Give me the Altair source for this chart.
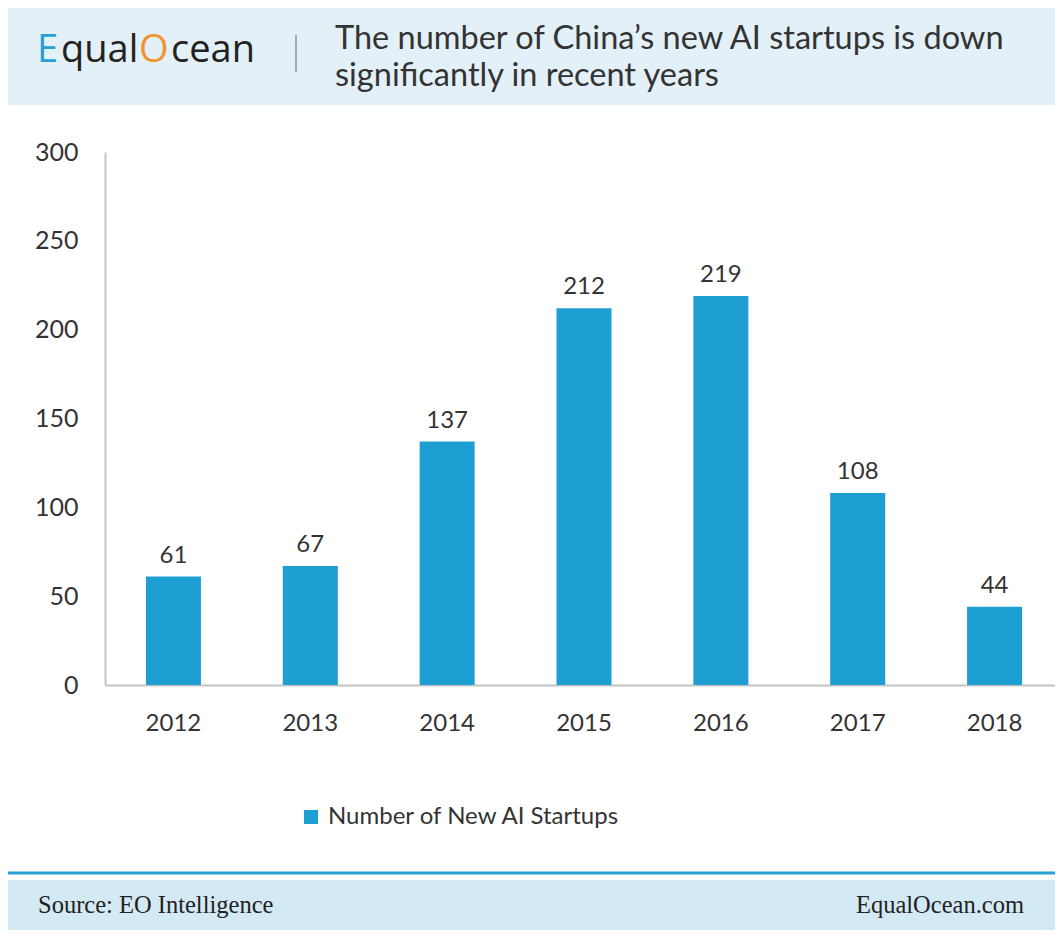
import altair as alt
import pandas as pd

years = ["2012", "2013", "2014", "2015", "2016", "2017", "2018"]
counts = [61, 67, 137, 212, 219, 108, 44]
series_name = "Number of New AI Startups"
title_lines = ["The number of China\u2019s new AI startups is down", "significantly in recent years"]
source_text = "Source: EO Intelligence"
site_text = "EqualOcean.com"
y_ticks = [0, 50, 100, 150, 200, 250, 300]

df = pd.DataFrame({"year": years, "count": counts, "series": [series_name] * len(years)})
one = pd.DataFrame({"k": [0]})

BAR = "#1e9fd3"
TXT = "#333333"

x = alt.X("year:N", sort=years,
          scale=alt.Scale(paddingInner=0.6, paddingOuter=0.3, range=[0, 958]),
          axis=alt.Axis(title=None, labelAngle=0, labelFontSize=24, labelColor=TXT,
                        labelPadding=26, ticks=False, tickSize=0,
                        domainColor="#c4c4c4", domainWidth=2))
y = alt.Y("count:Q", scale=alt.Scale(domain=[0, 300], nice=False),
          axis=alt.Axis(title=None, values=y_ticks, labelFontSize=25, labelColor=TXT,
                        labelPadding=27, ticks=False, tickSize=0, grid=False,
                        domainColor="#c4c4c4", domainWidth=2))

base = alt.Chart(df)

bars = base.mark_bar(size=55).encode(
    x=x, y=y,
    color=alt.Color("series:N", scale=alt.Scale(range=[BAR]),
                    legend=alt.Legend(title=None, orient="none", legendX=194, legendY=653,
                                      symbolType="square", symbolSize=196, symbolStrokeWidth=0,
                                      labelFontSize=24, labelColor=TXT, labelOffset=5,
                                      labelLimit=0, padding=0)),
)
labels = base.mark_text(fontSize=24, color=TXT, baseline="alphabetic", dy=-14).encode(
    x=x, y=y, text="count:Q")

deco = alt.Chart(one)
header = deco.mark_rect(color="#e3f0f8").encode(
    x=alt.value(-97), x2=alt.value(958), y=alt.value(-144), y2=alt.value(-47))
logo_font = "Open Sans"
logo_e = deco.mark_text(text="E", font=logo_font, fontSize=38, color="#2a9fd3",
                        align="left", baseline="alphabetic").encode(x=alt.value(-68), y=alt.value(-90))
logo_q = deco.mark_text(text="qual", font=logo_font, fontSize=38, color="#222",
                        align="left", baseline="alphabetic").encode(x=alt.value(-44), y=alt.value(-90))
logo_o = deco.mark_text(text="O", font=logo_font, fontSize=38, color="#f0952e",
                        align="left", baseline="alphabetic").encode(x=alt.value(34), y=alt.value(-90))
logo_c = deco.mark_text(text="cean", font=logo_font, fontSize=38, color="#222",
                        align="left", baseline="alphabetic").encode(x=alt.value(66), y=alt.value(-90))
sep = deco.mark_rule(color="#666", strokeWidth=1).encode(
    x=alt.value(191), y=alt.value(-117), y2=alt.value(-80))
t1 = deco.mark_text(text=title_lines[0], fontSize=32.5, color=TXT, align="left",
                    baseline="alphabetic").encode(x=alt.value(230), y=alt.value(-103))
t2 = deco.mark_text(text=title_lines[1], fontSize=32.5, color=TXT, align="left",
                    baseline="alphabetic").encode(x=alt.value(230), y=alt.value(-66))

foot_rule = deco.mark_rule(color="#2a9fd3", strokeWidth=3).encode(
    x=alt.value(-97), x2=alt.value(958), y=alt.value(721))
foot_rect = deco.mark_rect(color="#d3e9f4").encode(
    x=alt.value(-97), x2=alt.value(958), y=alt.value(728), y2=alt.value(778))
src = deco.mark_text(text=source_text, font="Liberation Serif", fontSize=24.5, color="#222",
                     align="left", baseline="alphabetic").encode(x=alt.value(-67), y=alt.value(761))
site = deco.mark_text(text=site_text, font="Liberation Serif", fontSize=24.5, color="#222",
                      align="right", baseline="alphabetic").encode(x=alt.value(919), y=alt.value(761))

chart = alt.layer(
    header, logo_e, logo_q, logo_o, logo_c, sep, t1, t2,
    bars, labels, foot_rule, foot_rect, src, site
).properties(
    width=950, height=533,
    autosize=alt.AutoSizeParams(type="none"),
    padding={"left": 97, "top": 144, "right": 0, "bottom": 245},
    background="white",
).configure(font="Lato").configure_view(stroke=None)

chart.save("out.html", embed_options={"renderer": "svg", "actions": False})
